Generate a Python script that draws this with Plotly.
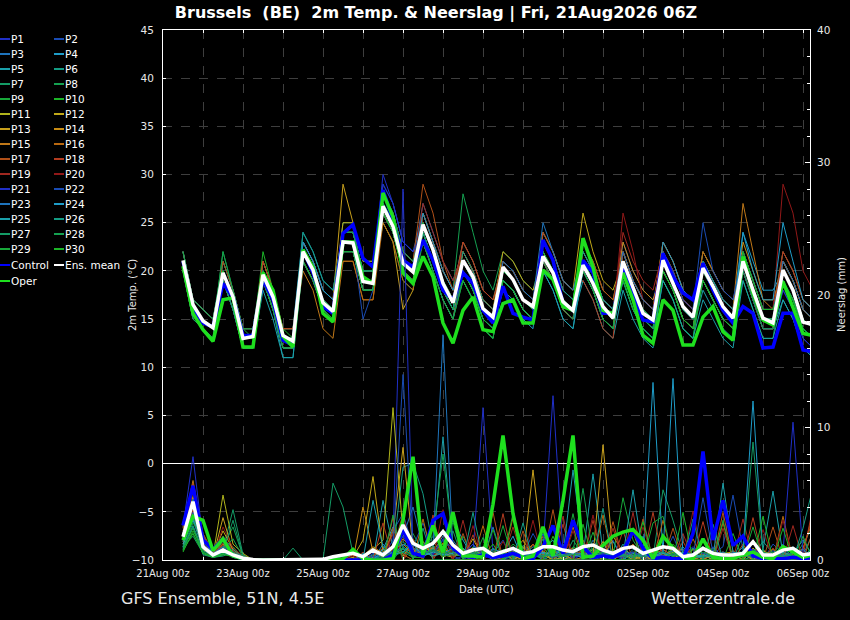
import pandas as pd
import plotly.graph_objects as go

# 6-hourly forecast steps, 21Aug 12z .. 06Sep 06z
times = pd.date_range("2026-08-21 12:00", periods=64, freq="6h")

# ensemble mean / control / oper, temperature (C)
MEAN_T = [21.1,16.5,14.8,14.1, 19.8,17.3,13.0,13.2, 19.6,17.3,13.3,12.7, 22.0,20.1,16.7,15.8,
          23.0,22.9,18.9,18.7, 26.7,24.6,20.8,19.9, 24.8,22.2,18.7,16.7, 21.1,19.4,16.1,15.2,
          20.4,19.1,17.0,16.3, 21.5,19.8,16.8,15.9, 20.6,18.7,16.3,15.1, 21.0,18.4,15.6,14.9,
          21.1,18.7,16.3,15.2, 20.3,18.4,16.3,15.1, 21.0,18.0,15.1,14.6, 20.1,18.0,14.7,14.4]
CTRL_T = [21.0,16.2,14.6,14.2, 18.7,17.3,13.3,13.3, 19.1,17.0,12.8,12.3, 22.2,19.8,16.3,15.6,
          23.9,24.8,21.3,20.4, 28.4,25.3,21.1,20.4, 23.2,21.1,18.0,17.0, 19.8,18.7,15.9,14.6,
          18.4,15.6,15.2,14.9, 23.2,21.1,16.6,15.9, 21.1,19.8,15.6,15.6, 20.3,17.7,14.9,14.7,
          21.8,19.4,17.7,17.0, 20.8,18.0,15.9,14.6, 16.3,15.6,12.0,12.1, 15.6,15.6,11.8,11.6]
OPER_T = [20.5,15.6,13.9,12.7, 17.0,17.2,12.1,12.1, 19.8,18.0,13.2,12.1, 22.2,20.4,15.6,14.7,
          23.0,23.0,19.4,18.7, 28.1,25.6,19.8,18.7, 21.5,19.4,14.6,12.5, 15.9,17.3,13.9,13.7,
          16.6,17.0,14.6,14.6, 20.1,19.1,16.3,15.9, 23.4,20.4,15.9,15.6, 19.8,17.0,13.3,12.5,
          17.0,15.9,12.3,12.3, 15.2,16.3,13.7,12.8, 21.5,17.7,14.9,14.4, 18.9,16.3,13.5,13.3]

# ensemble mean / control / oper, precipitation (mm / 6h)
MEAN_R = [1.76,4.4,1.0,0.38, 0.75,0.38,0.13,0.03, 0,0,0,0, 0,0,0.05,0.25,
          0.38,0.5,0.25,0.75, 0.38,1.0,2.64,1.26, 0.88,1.26,2.14,1.13, 0.5,0.75,0.88,0.38,
          0.63,0.88,0.5,0.63, 1.0,1.0,0.75,0.63, 1.0,1.13,0.75,0.5, 0.88,1.0,0.5,0.75,
          1.0,0.88,0.25,0.38, 0.88,0.5,0.38,0.38, 0.5,1.38,0.38,0.38, 0.75,0.88,0.38,0.5]
CTRL_R = [2.6,5.6,1.5,0.8, 1.6,0.3,0.1,0, 0,0,0,0, 0,0,0,0,
          0,0,0,0, 0,0.4,2.3,0.5, 0.3,3.0,3.5,0.9, 0.3,0.2,0.4,0.2,
          0.3,0.5,0.2,0.1, 1.0,2.6,0.5,3.0, 1.0,0.2,0.3,0.2, 0.6,2.2,0.9,0.1,
          0.2,0.1,0.1,2.0, 8.2,1.5,4.5,1.1, 1.8,0.3,0.1,0.1, 0.1,0.2,0.1,0.2]
OPER_R = [1.5,3.3,3.0,0.7, 1.6,0.3,0.1,0, 0,0,0,0, 0,0,0,0,
          0.1,0.8,0.1,0, 0,0.1,3.0,7.8, 0.4,2.6,0.6,3.6, 0.3,0.3,0.2,4.2,
          9.4,3.5,0.1,0.3, 2.5,0.3,4.5,9.4, 0.2,0.3,1.1,1.8, 2.1,2.3,1.5,0.1,
          1.8,0.9,0.2,0.1, 1.6,0.2,0.1,0.1, 0.4,0.6,0.2,0.1, 1.0,0.6,0.2,0.4]

# perturbed members, temperature (C)
P1_T = [21,16,15,14, 20,17,13,13, 20,17,13,13, 22,20,17,16, 24,24,20,20, 30,27,23,22, 24,21,18,16, 20,18,15,14, 20,19,17,16, 23,21,18,17, 21,19,16,15, 20,17,15,14, 22,20,17,16, 20,18,16,15, 20,17,14,14, 18,16,13,12]
P2_T = [22,17,16,15, 20,17,13,13, 19,16,12,12, 23,21,18,17, 23,23,19,19, 29,27,23,22, 26,23,20,18, 21,19,16,15, 19,18,16,15, 22,20,17,16, 22,20,17,16, 23,20,18,17, 21,19,16,15, 19,17,15,14, 22,19,16,16, 21,19,16,15]
P3_T = [21,16,15,14, 21,18,14,14, 20,17,13,13, 21,19,16,15, 22,22,18,18, 28,26,22,21, 27,24,21,19, 22,20,17,16, 20,19,17,16, 21,19,16,15, 20,18,15,14, 21,18,16,15, 22,20,17,16, 22,20,18,17, 21,18,15,15, 19,17,14,13]
P4_T = [21,16,15,14, 20,17,13,13, 21,18,14,14, 24,22,19,18, 24,24,20,20, 28,26,22,21, 25,22,19,17, 20,18,15,14, 18,17,15,14, 24,22,19,18, 21,19,16,15, 20,17,15,14, 21,19,16,15, 21,19,17,16, 24,21,18,18, 20,18,15,14]
P5_T = [21,16,15,14, 19,16,12,12, 19,16,11,11, 22,20,17,16, 22,22,18,18, 26,24,20,19, 26,23,20,18, 23,21,18,17, 21,20,18,17, 21,19,16,15, 19,17,14,13, 18,15,13,12, 20,18,15,14, 18,16,14,13, 20,17,14,14, 17,15,12,11]
P6_T = [22,17,16,15, 21,18,14,14, 20,17,13,13, 22,20,17,16, 25,25,21,21, 27,25,21,20, 24,21,18,16, 21,19,16,15, 21,20,18,17, 22,20,17,16, 22,20,17,16, 19,16,14,13, 19,17,14,13, 20,18,16,15, 22,19,16,16, 22,20,17,16]
P7_T = [21,16,15,14, 21,18,14,14, 21,18,14,14, 21,19,16,15, 23,23,19,19, 25,23,19,18, 23,20,17,15, 20,18,15,14, 20,19,17,16, 23,21,18,17, 23,21,18,17, 22,19,17,16, 20,18,15,14, 21,19,17,16, 21,18,15,15, 21,19,16,15]
P8_T = [20,15,14,13, 20,17,13,13, 20,17,13,13, 23,21,18,17, 24,24,20,20, 27,25,21,20, 26,23,20,18, 28,24,20,18, 22,21,19,18, 22,20,17,16, 20,18,15,14, 21,18,16,15, 22,20,17,16, 19,17,15,14, 19,16,13,13, 20,18,15,14]
P9_T = [21,16,15,14, 22,18,14,13, 19,16,12,12, 22,20,17,16, 23,23,19,19, 28,26,22,21, 24,21,18,16, 19,17,14,13, 19,18,16,15, 22,20,17,16, 21,19,16,15, 22,19,17,16, 23,21,18,17, 20,18,16,15, 20,17,14,14, 19,17,14,13]
P10_T = [21,16,15,14, 20,17,13,13, 22,18,14,13, 22,20,17,16, 22,22,18,18, 27,25,21,20, 25,22,19,17, 19,17,14,13, 19,18,16,15, 21,19,16,15, 22,20,17,16, 21,18,16,15, 19,17,14,13, 19,17,15,14, 21,18,15,15, 21,19,16,15]
P11_T = [22,17,16,15, 20,17,13,13, 20,17,13,13, 22,20,17,16, 24,24,20,20, 26,24,20,19, 23,20,17,15, 21,19,16,15, 21,20,18,17, 23,21,18,17, 20,18,15,14, 21,18,16,15, 20,18,15,14, 21,19,17,16, 21,18,15,15, 20,18,15,14]
P12_T = [21,16,15,14, 19,16,12,12, 20,17,13,13, 23,21,18,17, 25,25,21,21, 26,24,20,19, 24,21,18,16, 22,20,17,16, 20,19,17,16, 24,22,19,18, 26,22,19,18, 21,18,16,15, 22,20,17,16, 19,17,15,14, 22,19,16,16, 21,19,16,15]
P13_T = [21,16,15,14, 20,17,13,13, 20,17,13,13, 23,21,18,17, 29,25,19,19, 25,23,16,18, 25,22,19,17, 22,20,17,16, 22,21,19,18, 21,19,16,15, 21,19,16,15, 22,19,17,16, 21,19,16,15, 22,20,18,17, 20,17,14,14, 21,19,16,15]
P14_T = [20,15,14,13, 20,17,13,13, 21,18,14,14, 22,20,17,16, 22,22,18,18, 26,24,20,19, 26,23,20,18, 21,19,16,15, 19,18,16,15, 23,21,18,17, 22,20,17,16, 23,20,18,17, 20,18,15,14, 20,18,16,15, 23,20,17,17, 20,18,15,14]
P15_T = [21,16,15,14, 20,17,13,13, 20,17,13,13, 20,18,14,13, 21,21,17,17, 26,24,20,19, 25,22,19,17, 22,20,17,16, 19,18,16,15, 22,20,17,16, 20,18,15,14, 22,19,17,16, 23,21,18,17, 21,19,17,16, 27,22,17,16, 21,19,16,15]
P16_T = [22,17,16,15, 20,17,13,13, 19,16,12,12, 21,19,16,15, 21,21,17,17, 25,23,19,18, 26,23,20,18, 21,19,16,15, 21,20,18,17, 21,19,16,15, 23,21,18,17, 21,18,16,15, 22,20,17,16, 22,20,18,17, 20,17,14,14, 20,18,15,14]
P17_T = [21,16,15,14, 21,18,14,14, 20,17,13,13, 22,20,17,16, 22,22,18,18, 28,26,22,21, 29,26,21,18, 23,21,18,17, 21,20,18,17, 22,20,17,16, 23,21,18,17, 22,19,17,16, 20,18,15,14, 20,18,16,15, 22,19,16,16, 22,20,17,16]
P18_T = [21,16,15,14, 20,17,13,13, 21,18,14,14, 21,19,16,15, 24,24,20,20, 26,24,20,19, 25,22,19,17, 23,21,18,17, 20,19,17,16, 24,22,19,18, 19,17,14,13, 22,19,17,16, 23,21,18,17, 19,17,15,14, 21,18,15,15, 22,20,17,16]
P19_T = [21,16,15,14, 19,16,12,12, 20,17,13,13, 22,20,17,16, 23,23,19,19, 27,25,21,20, 27,24,21,19, 22,20,17,16, 20,19,17,16, 21,19,16,15, 22,20,17,16, 24,21,19,18, 22,20,17,16, 20,18,16,15, 20,17,14,14, 21,19,16,15]
P20_T = [21,16,15,14, 20,17,13,13, 19,16,12,12, 22,20,17,16, 23,23,19,19, 26,24,20,19, 26,23,20,18, 21,19,16,15, 21,20,18,17, 23,21,18,17, 21,19,16,15, 26,22,17,16, 22,20,17,16, 20,18,16,15, 22,19,16,16, 29,26,20,18]
P21_T = [20,15,14,13, 20,17,13,13, 20,17,13,13, 23,21,18,17, 23,23,19,19, 29,27,23,22, 24,21,18,16, 20,18,15,14, 19,18,16,15, 23,21,18,17, 21,19,16,15, 20,17,15,14, 21,19,16,15, 21,19,17,16, 20,17,14,14, 18,16,13,12]
P22_T = [21,16,15,14, 19,16,12,12, 20,17,13,13, 21,19,16,15, 23,23,15,18, 26,24,20,19, 23,20,17,15, 20,18,15,14, 20,19,17,16, 22,20,17,16, 20,18,15,14, 19,16,14,13, 22,20,17,16, 25,20,18,17, 22,19,16,16, 20,18,15,14]
P23_T = [22,17,16,15, 20,17,13,13, 20,17,13,13, 22,20,17,16, 24,24,20,20, 27,25,21,20, 25,22,19,17, 20,18,15,14, 21,20,18,17, 25,22,19,18, 22,20,17,16, 22,19,17,16, 20,18,15,14, 19,17,15,14, 21,18,15,15, 21,19,16,15]
P24_T = [21,16,15,14, 20,17,13,13, 19,16,12,12, 23,21,18,17, 22,22,18,18, 27,25,21,20, 26,23,20,18, 21,19,16,15, 19,18,16,15, 20,18,15,14, 21,19,16,15, 20,17,15,14, 23,21,18,17, 20,18,16,15, 24,20,17,17, 25,21,17,16]
P25_T = [21,16,15,14, 19,16,12,12, 18,15,11,11, 22,20,17,16, 23,23,19,19, 26,24,20,19, 24,21,18,16, 21,19,16,15, 19,18,16,15, 20,18,15,14, 20,18,15,14, 19,16,14,13, 19,17,14,13, 17,15,13,12, 19,16,13,13, 17,15,12,11]
P26_T = [21,16,15,14, 20,17,13,13, 20,17,13,13, 24,22,19,18, 24,24,20,20, 27,25,21,20, 24,21,18,16, 22,20,17,16, 20,19,17,16, 23,21,18,17, 22,20,17,16, 21,18,16,15, 21,19,16,15, 21,19,17,16, 21,18,15,15, 19,17,14,13]
P27_T = [20,15,14,13, 19,16,12,12, 19,16,12,12, 21,19,16,15, 22,22,18,18, 27,25,21,20, 23,20,17,15, 19,17,14,13, 19,18,16,15, 21,19,16,15, 21,19,16,15, 20,17,15,14, 20,18,15,14, 20,18,16,15, 22,19,16,16, 19,17,14,13]
P28_T = [21,16,15,14, 22,18,14,14, 20,17,13,13, 22,20,17,16, 24,24,20,20, 28,26,22,21, 24,21,18,16, 20,18,15,14, 20,19,17,16, 22,20,17,16, 20,18,15,14, 21,18,16,15, 21,19,16,15, 19,17,15,14, 20,17,14,14, 20,18,15,14]
P29_T = [22,17,16,15, 20,17,13,13, 19,16,12,12, 22,20,17,16, 22,22,18,18, 26,24,20,19, 23,20,17,15, 19,17,14,13, 20,19,17,16, 22,20,17,16, 20,18,15,14, 20,17,15,14, 20,18,15,14, 20,18,16,15, 21,18,15,15, 20,18,15,14]
P30_T = [21,16,15,14, 20,17,13,13, 20,17,13,13, 21,19,16,15, 23,23,19,19, 26,24,20,19, 25,22,19,17, 20,18,15,14, 19,18,16,15, 22,20,17,16, 21,19,16,15, 19,16,14,13, 20,18,15,14, 19,17,15,14, 22,19,16,16, 19,17,14,13]

# perturbed members, precipitation (mm / 6h)
P1_R = [2.5,7.8,1.5,0.3, 1.0,0.5,0,0, 0,0,0,0, 0,0,0,0, 0,0,0,0.5, 0.3,1.5,28,0.8, 0.5,1.2,2.0,0.3, 0,0.5,11.5,0.6, 0,0.3,1.0,0.5, 0,0.8,0.3,0, 0.5,0,1.2,0.4, 0,0.6,0,0.3, 0.8,0,0,0.5, 0,1.0,0.2,0, 0.4,0,0.6,0, 0,0.3,0,0.6]
P2_R = [2.0,5.5,1.0,0.5, 0.8,0.3,0,0, 0,0,0,0, 0,0,0,0, 0.3,0,0.4,0, 0,2.2,3.5,1.0, 2.8,0.4,1.5,0, 0.3,0,0.8,0.5, 1.5,0,0.4,2.0, 0.6,0,1.2,0, 0,0.8,0,1.5, 0,0,0.9,0.3, 0.2,1.8,0,0.5, 0,0.5,1.0,4.9, 0.8,0,0,1.2, 0.5,0,0.8,0]
P3_R = [1.5,4.5,2.0,0.2, 1.5,1.0,0.2,0, 0,0,0,0, 0,0,0,0, 0,0.5,0,0, 1.2,0.5,1.8,4.0, 1.0,2.5,0.8,1.5, 0.4,1.2,0,2.5, 0,1.0,0.5,0, 2.0,0,0.3,0.8, 0,1.5,0.4,0, 0.6,0,1.8,0, 0,0.7,0.5,0, 1.0,0,0.3,0.4, 0,0.8,0,0.3, 1.2,0,0.4,2.0]
P4_R = [1.0,3.5,1.5,0.5, 0.5,0.3,0,0, 0,0,0,0, 0,0,0,0.3, 0,0,0,0.2, 0.8,2.5,1.0,0.5, 0.3,0.6,1.8,3.0, 1.5,0.2,0.5,0, 0.5,1.8,0,0.6, 0,0.4,1.0,0.2, 0.6,0,0.8,1.4, 0,0.5,0.2,13.4, 0.5,0.3,1.0,0, 0.4,0,0.6,0.2, 1.0,0,0.3,0, 0,0.5,1.5,0.3]
P5_R = [1.8,3.0,0.8,0.3, 0.6,0.5,0,0, 0,0,0,0, 0,0,0,0, 0,0,0.5,0, 4.5,1.0,0.6,1.2, 0.5,0.8,9.3,1.0, 0.2,0.8,0.4,0.3, 0,0.5,0.3,1.0, 0.8,1.5,0,0.5, 0.3,6.5,0.6,0, 1.2,0,0.4,0.3, 0,0.9,0.5,0.2, 0.8,0.2,0,0.5, 0.6,0,0.8,5.2, 0.4,1.0,0,0.8]
P6_R = [0.8,2.5,0.4,0.2, 0.3,0.6,0.1,0, 0,0,0,0, 0,0,0,0, 0,0.2,0,0.4, 0,0.5,7.0,7.3, 5.0,1.0,0.3,0.8, 0.6,0.4,0.2,0.9, 0.4,0,1.1,0.6, 0.3,0.7,0.4,0, 1.3,0.2,0,0.7, 0,0.8,0.5,0.2, 0.6,0,0.3,0.9, 0.2,0.6,0.4,0, 0,0.3,1.4,0.5, 0.3,0.8,0.2,1.0]
P7_R = [1.2,2.0,0.6,0.2, 0.8,3.8,0.4,0, 0,0,0,0, 0,0,0,0, 0,0,0,0, 0,0.6,1.4,0.5, 0.9,0.3,0.7,2.2, 0,1.0,0.4,0.2, 0.6,0,0.9,0.3, 0.2,0.5,0,1.5, 0.4,0.9,0.3,0, 0.7,0.3,0.6,0.2, 5.3,3.0,0.4,0, 0.3,0.5,0,0.6, 0.2,0.8,0.3,0, 0.5,0,1.2,2.5]
P8_R = [2.2,4.0,1.2,0.6, 1.0,2.5,0.3,0, 0,0,0,0, 0,0,0,0, 0,0,0,0, 0.5,0,1.0,2.0, 0.6,1.8,8.0,1.2, 0.3,0.5,0.9,0, 0.8,0.4,0,0.6, 0.4,0,0.8,0.2, 0.5,1.2,0,0.4, 0.3,0,1.0,0.5, 0,0.6,0.2,0.8, 1.0,0.3,0.5,0, 0.4,0.2,0,0.6, 0.2,0.5,0.3,0]
P9_R = [1.0,2.8,1.6,0.4, 0.5,0.2,0,0, 0,0,0,0, 0,0,0,0, 0,0,0,0, 0.2,0.8,0.5,1.6, 0.4,0.6,1.2,0.3, 1.8,0.2,0.5,0.7, 0.3,1.2,0.6,0, 0,0.4,0.2,1.0, 0.6,0,0.5,0.3, 4.7,1.5,0.3,0, 0.4,0,0.6,0.2, 0.3,0.9,0,0.4, 0,0.3,0.8,0.2, 0.6,0.2,0,0.5]
P10_R = [0.6,2.2,0.8,0.2, 0.4,1.0,0.1,0, 0,0,0,0, 0,0,0,0, 0,0,0,0, 0.4,0.3,0.9,0.2, 0.2,1.1,0.5,0.8, 0.5,0,0.3,1.2, 0,0.7,0.2,0.5, 0.9,0.2,0.4,0, 0.2,0.5,0,0.8, 0.4,0.2,0.7,0.3, 0,1.2,0.3,0, 0.5,0,0.2,0.3, 0.3,0.6,0,0.4, 0,0.2,0.5,0.3]
P11_R = [1.4,3.6,1.0,0.3, 4.9,1.2,0.5,0, 0,0,0,0, 0,0,0,0, 0,0,0,0.8, 1.5,11.5,2.0,0.6, 0.3,1.0,0.4,0.2, 0.8,0.3,0.6,0, 0.2,0.5,1.0,0.3, 0.6,0,0.2,0.5, 0.3,0.8,0.4,0, 0.5,0,0.3,0.6, 0.2,0.4,0,0.8, 0,0.6,0.3,0.2, 0.5,0,0.7,0.3, 0.2,0.4,0,0.2]
P12_R = [1.6,4.2,1.2,0.4, 2.2,0.8,0.2,0, 0,0,0,0, 0,0,0,0, 0,0.2,1.5,6.3, 0.6,1.0,0.3,1.4, 0.8,0.2,0.9,0.4, 0.3,1.6,0.2,0.5, 0.7,0,0.4,1.2, 0.2,0.8,0,0.3, 0.5,0.2,1.4,0, 0.9,0.3,0,0.5, 0.3,0.6,0.8,0, 0.4,0,0.5,0.6, 0,0.9,0.2,0.3, 0.6,0,0.3,0.5]
P13_R = [1.2,3.4,0.8,0.2, 3.2,0.6,0.3,0, 0,0,0,0, 0,0,0,0, 0,0,0.3,1.0, 0.5,2.0,8.5,0.8, 0.4,0.9,0.2,0.6, 0.3,0,0.8,0.4, 0.6,0.3,0,6.8, 0.4,0,0.6,0.2, 0.8,0.3,8.7,0.5, 0.2,0.6,0.3,0, 0.5,0,0.4,0.3, 0.2,0.7,0,0.4, 0.3,0.2,0.6,0, 0.4,0,0.2,0.3]
P14_R = [1.8,4.8,1.4,0.5, 1.5,0.8,0.2,0, 0,0,0,0, 0,0,0,0, 0,0,4.0,0.6, 0.2,0.8,1.2,0.5, 1.4,0.3,0.6,0.2, 0.6,0.9,0.3,0.5, 0.2,0.6,1.5,0.3, 0.7,0.2,0.4,0.9, 0.3,0.5,0,1.8, 0.6,0.2,0.4,0, 0.3,0.8,0.2,0.5, 0,0.4,0.6,0.2, 0.5,0,0.3,0.8, 0.2,0.6,0,0.4]
P15_R = [2.4,6.0,1.8,0.4, 1.2,0.5,0.2,0, 0,0,0,0, 0,0,0,0, 0,0.4,0,0.3, 0.9,0.4,1.6,0.8, 0.3,1.4,0.5,0.9, 0.8,0.2,1.0,0.3, 0.4,0.9,0.2,0.6, 1.2,0.3,0.5,0, 0.2,0.6,0.9,0.3, 0.5,1.2,0.2,0.4, 0.8,0.3,0.6,0, 0.3,0.5,0,0.7, 0.2,0.4,0.5,0.2, 0.6,0.3,0.9,3.0]
P16_R = [2.0,5.2,1.6,0.3, 0.9,0.4,0.1,0, 0,0,0,0, 0,0,0,0, 0,0,0,0, 0,2.4,0.4,0, 3.1,0,1.3,0, 0,0,2.6,0, 0,3.2,0,0, 1.8,0,0,2.5, 0,0,3.4,0, 0,2.1,0,0, 3.0,0,0,1.6, 0,0,2.8,0, 0,1.5,0,0, 3.3,0,0,2.2]
P17_R = [2.6,5.8,2.0,0.6, 1.3,0.6,0.2,0, 0,0,0,0, 0,0,0,0, 0,0,0.2,0, 0,3.2,0,1.0, 0,2.7,0,0, 2.0,0,0,3.6, 0,0,2.2,0, 0,3.8,0,0, 1.5,0,0,2.9, 0,0,3.1,0, 0,2.4,0,0, 0,0,3.6,0, 1.2,0,0,2.5, 0,0,0.8,3.4]
P18_R = [2.2,4.4,1.8,0.5, 1.1,0.5,0.3,0, 0,0,0,0, 0,0,0,0, 0,0,0.6,0, 2.8,0,0,1.6, 0,3.4,0,0, 0,1.9,0,0, 3.5,0,0,1.2, 0,0,2.7,0, 0,3.0,0,0, 2.2,0,0,3.6, 0,0,1.4,0, 2.9,0,0,0, 0,3.2,0,0.9, 0,0,0.3,4.0]
P19_R = [1.6,3.8,1.4,0.3, 1.8,0.7,0.2,0, 0,0,0,0, 0,0,0,0, 0,0,0,0, 0,0.8,3.5,0, 0,0,2.2,0, 3.0,0,0,0.6, 0,2.5,0,0, 0,0,3.3,0, 1.0,0,0,2.4, 0,3.6,0,0, 0,0,2.0,0, 0,0,2.4,0, 3.1,0,0,0, 0,2.6,0,0]
P20_R = [1.4,3.2,1.0,0.2, 2.5,0.9,0.3,0, 0,0,0,0, 0,0,0,0, 0,0.3,0,0, 0,2.0,0,0, 0,0,3.8,0, 0,2.6,0,0, 1.4,0,0,3.0, 0,0,0,2.2, 0,3.4,0,0, 0,0,2.5,0, 0,0,0,3.7, 0,1.8,0,0, 0,0,2.3,0, 3.0,0,0,0]
P21_R = [1.8,4.2,1.2,0.4, 0.6,0.4,0,0, 0,0,0,0, 0,0,0,0, 0,0,0,0, 0.4,0.6,1.8,0.5, 0.9,0.4,1.6,0.8, 0.5,1.2,0.4,0.3, 0.2,0.8,0.3,0.5, 0.8,12.4,0.6,0.2, 0.4,0,0.8,0.3, 0.2,0.6,0.3,0.5, 0.3,0,0.4,1.0, 0.5,0.3,0.2,0.6, 0.3,0.8,0.4,0.2, 0.6,10.4,0.5,0.3]
P22_R = [1.5,3.6,1.0,0.3, 0.8,0.5,0.1,0, 0,0,0,0, 0,0,0,0, 0,0,0,0.3, 0.2,0.9,14.0,0.6, 0.4,0.8,0.3,1.0, 0.6,0.3,0.9,0.4, 0.3,0.5,0.2,0.8, 0.5,0.2,0.4,0.6, 0.8,0.3,0.5,0.2, 0.4,0.6,0.2,0.3, 0.2,0.4,0.8,0.3, 4.7,0.5,0.3,0.4, 0.6,0.2,0.5,0.3, 0.2,0.6,0.3,0.5]
P23_R = [2.0,4.6,1.4,0.5, 1.0,0.6,0.2,0, 0,0,0,0, 0,0,0,0, 0,0,0.4,0, 0.6,0.3,1.2,0.9, 0.5,0.8,17.0,0.6, 0.3,0.5,0.2,0.8, 0.6,0.2,0.7,0.4, 0.3,0.9,0.3,0.5, 0.5,0.2,0.6,0.3, 0.8,0.3,0.4,0.2, 0.3,0.7,0.2,0.5, 0.2,0.4,0.6,0.3, 0.5,0.3,0.2,0.7, 0.3,0.5,0.8,0.2]
P24_R = [1.2,3.0,1.6,0.4, 0.7,0.3,0,0, 0,0,0,0, 0,0,0,0, 0,0,0,0, 0.8,0.4,0.6,1.2, 0.3,0.6,0.4,0.5, 0.9,0.2,0.6,0.3, 0.4,0.6,0.3,0.2, 0.6,0.3,0.8,0.4, 0.2,0.5,0.3,0.6, 0.4,0.2,0.5,0.3, 0.6,13.7,0.4,0.2, 0.3,0.5,0.2,0.4, 0.6,12.0,0.4,0.3, 0.2,0.5,0.3,0.6]
P25_R = [1.4,3.2,0.9,0.2, 0.5,0.4,0,0, 0,0,0,0, 0,0,0,0, 0,0,0,4.5, 1.0,0.5,0.8,0.4, 0.6,0.3,0.5,0.9, 0.4,0.8,0.3,0.5, 0.2,0.4,0.6,0.3, 0.5,0.3,0.4,6.8, 0.8,0.4,0.2,0.5, 0.3,5.3,0.4,0.2, 0.5,0.3,0.6,0.4, 0.3,0.2,5.8,0.6, 0.4,0.5,0.3,0.2, 0.6,0.3,0.4,0.5]
P26_R = [0.9,2.6,0.7,0.3, 0.4,0.8,0.2,0, 0,0,0,0, 0,0,0,0, 0,0,0,0, 0,0,3.0,0, 2.4,0,0,0, 0,3.6,0,0, 0,0,2.8,0, 1.6,0,0,0, 0,0,3.9,0, 0,2.2,0,0, 0,0,0,3.1, 0,2.7,0,0, 1.9,0,0,0, 0,0,2.4,5.5]
P27_R = [1.0,1.8,0.5,0.2, 0.6,3.0,0.3,0, 0,0,0,0.9, 0,0,0,5.8, 4.0,0.5,0,0, 0.4,0.3,0.6,0.2, 0.5,0.7,0.3,0.4, 0.3,0.5,0.2,0.6, 0.6,0.2,0.4,0.3, 0.2,0.5,0.3,0.4, 0.4,0.2,0.6,0.3, 0.3,0.4,0.2,0.5, 0.6,0.3,0.4,0.2, 0.2,0.5,0.3,0.4, 0.3,8.9,0.5,0.2, 0.4,0.3,0.2,0.6]
P28_R = [1.6,3.4,1.0,0.4, 0.8,1.6,0.2,0, 0,0,0,0, 0,0,0,0, 0,0,0,0, 0.2,0.5,0.9,0.3, 0.4,0.8,0.5,0.6, 0.3,0.6,0.4,0.2, 0.5,0.3,0.6,0.4, 0.3,0.5,0.2,0.6, 5.4,0.3,0.4,0.2, 0.4,0.2,0.5,0.3, 0.2,0.5,0.3,0.4, 0.6,0.3,0.2,0.5, 0.3,0.2,0.6,0.4, 0.2,0.5,0.3,0.2]
P29_R = [0.8,2.4,0.6,0.2, 0.5,0.6,0.1,0, 0,0,0,0, 0,0,0,0, 0,0,0,0, 0,3.4,0,0, 0,0,0,2.9, 0,0,1.7,0, 2.6,0,0,0, 0,0,0,3.5, 0,2.1,0,0, 0,0,0,2.8, 3.3,0,0,0, 0,0,3.0,0, 0,2.5,0,0, 0,0,1.8,0]
P30_R = [0.7,2.0,0.5,0.2, 0.4,0.3,0.1,0, 0,0,0,0, 0,0,0,0, 0,0,0,0, 0,0,2.6,0, 0,3.1,0,0, 0,0,0,2.3, 0,3.5,0,0, 0,1.8,0,0, 2.7,0,0,0, 0,0,2.9,0, 0,0,3.6,0, 0,0,0,2.0, 0,0,3.3,0, 2.4,0,0,0]

members_t = [P1_T, P2_T, P3_T, P4_T, P5_T, P6_T, P7_T, P8_T, P9_T, P10_T,
             P11_T, P12_T, P13_T, P14_T, P15_T, P16_T, P17_T, P18_T, P19_T, P20_T,
             P21_T, P22_T, P23_T, P24_T, P25_T, P26_T, P27_T, P28_T, P29_T, P30_T]
members_r = [P1_R, P2_R, P3_R, P4_R, P5_R, P6_R, P7_R, P8_R, P9_R, P10_R,
             P11_R, P12_R, P13_R, P14_R, P15_R, P16_R, P17_R, P18_R, P19_R, P20_R,
             P21_R, P22_R, P23_R, P24_R, P25_R, P26_R, P27_R, P28_R, P29_R, P30_R]
names = ["P%d" % (k + 1) for k in range(30)]

# colour ramp for P1..P20, repeated for P21..P30
ramp = ["#2030c8", "#1a4cb4", "#1e74bc", "#1e9cc8", "#1aa0aa", "#149c84", "#149c66", "#14a050",
        "#18a83a", "#1cb428", "#b0b41c", "#c0a818", "#c8a01c", "#c88c14", "#c07818", "#b86810",
        "#b05018", "#b43c20", "#a02820", "#901818"]
colors = [ramp[k % 20] for k in range(30)]
CTRL_COL = "#0000ff"
OPER_COL = "#1ee01e"
MEAN_COL = "#ffffff"

W, H = 850, 620
ML, MR, MT, MB = 163, 40, 30, 60
FONT = "DejaVu Sans"
TXT = "#e8e8e8"
GRID = "#3e3e3e"


def fx(x):
    # window pixel -> paper x
    return (x - ML) / (W - ML - MR)


def fy(y):
    # window pixel -> paper y
    return (H - MB - y) / (H - MT - MB)


fig = go.Figure()

for k in range(30):
    fig.add_trace(go.Scatter(x=times, y=members_r[k], yaxis="y2", mode="lines",
                             line=dict(color=colors[k], width=1), name=names[k]))
for k in range(30):
    fig.add_trace(go.Scatter(x=times, y=members_t[k], mode="lines",
                             line=dict(color=colors[k], width=1), name=names[k]))

fig.add_trace(go.Scatter(x=times, y=CTRL_T, mode="lines", line=dict(color=CTRL_COL, width=3.5), name="Control"))
fig.add_trace(go.Scatter(x=times, y=CTRL_R, yaxis="y2", mode="lines", line=dict(color=CTRL_COL, width=3.5), name="Control"))
fig.add_trace(go.Scatter(x=times, y=OPER_T, mode="lines", line=dict(color=OPER_COL, width=3.5), name="Oper"))
fig.add_trace(go.Scatter(x=times, y=OPER_R, yaxis="y2", mode="lines", line=dict(color=OPER_COL, width=3.5), name="Oper"))
fig.add_trace(go.Scatter(x=times, y=MEAN_T, mode="lines", line=dict(color=MEAN_COL, width=3.5), name="Ens. mean"))
fig.add_trace(go.Scatter(x=times, y=MEAN_R, yaxis="y2", mode="lines", line=dict(color=MEAN_COL, width=3.5), name="Ens. mean"))

# two-column legend at the left, drawn as text + short line swatches
left_col = [names[k] for k in range(0, 30, 2)] + ["Control", "Oper"]
left_cols = [colors[k] for k in range(0, 30, 2)] + [CTRL_COL, OPER_COL]
right_col = [names[k] for k in range(1, 30, 2)] + ["Ens. mean"]
right_cols = [colors[k] for k in range(1, 30, 2)] + [MEAN_COL]
rows = [39 + 15 * j for j in range(15)] + [265, 281]

shapes = []
annotations = []
for col, cols, x0 in [(left_col, left_cols, 0), (right_col, right_cols, 54)]:
    for j, (label, c) in enumerate(zip(col, cols)):
        yy = rows[j]
        shapes.append(dict(type="line", xref="paper", yref="paper", x0=fx(x0), x1=fx(x0 + 10),
                           y0=fy(yy), y1=fy(yy), line=dict(color=c, width=2)))
        annotations.append(dict(text=label, xref="paper", yref="paper", x=fx(x0 + 9), y=fy(yy),
                                xanchor="left", yanchor="middle", showarrow=False,
                                font=dict(family=FONT, size=10.5, color="white")))

# axis titles and footer texts
annotations.append(dict(text="2m Temp. (°C)", xref="paper", yref="paper", x=fx(132), y=fy(295),
                        textangle=-90, xanchor="center", yanchor="middle", showarrow=False,
                        font=dict(family=FONT, size=10, color=TXT)))
annotations.append(dict(text="Neerslag (mm)", xref="paper", yref="paper", x=fx(841), y=fy(295),
                        textangle=-90, xanchor="center", yanchor="middle", showarrow=False,
                        font=dict(family=FONT, size=10, color=TXT)))
annotations.append(dict(text="Date (UTC)", xref="paper", yref="paper", x=fx(486), y=fy(589),
                        xanchor="center", yanchor="middle", showarrow=False,
                        font=dict(family=FONT, size=10, color=TXT)))
annotations.append(dict(text="GFS Ensemble, 51N, 4.5E", xref="paper", yref="paper",
                        x=fx(119), y=fy(598), xanchor="left", yanchor="middle", showarrow=False,
                        font=dict(family=FONT, size=16, color=TXT)))
annotations.append(dict(text="Wetterzentrale.de", xref="paper", yref="paper",
                        x=fx(649), y=fy(598), xanchor="left", yanchor="middle", showarrow=False,
                        font=dict(family=FONT, size=16, color=TXT)))

fig.update_layout(
    width=W, height=H,
    margin=dict(l=ML, r=MR, t=MT, b=MB),
    paper_bgcolor="black", plot_bgcolor="black",
    showlegend=False, hovermode=False,
    font=dict(family=FONT, color=TXT, size=10),
    title=dict(text="<b>Brussels\u00a0\u00a0(BE)\u00a0\u00a02m Temp. & Neerslag | Fri, 21Aug2026 06Z</b>",
               x=436 / W, xanchor="center", y=1 - 12 / H, yanchor="middle",
               font=dict(family=FONT, size=16, color="white")),
    xaxis=dict(type="date", range=["2026-08-21 00:00", "2026-09-06 04:12"],
               tick0="2026-08-21 00:00", dtick=2 * 86400000, tickformat="%d%b %Hz",
               showgrid=True, gridcolor=GRID, griddash="dash", gridwidth=1,
               minor=dict(dtick=86400000, showgrid=True, gridcolor=GRID, griddash="dash",
                          ticks="inside", ticklen=3, tickcolor="white"),
               ticks="inside", ticklen=3, tickcolor="white", ticklabelstandoff=4,
               showline=True, linecolor="white", linewidth=1, mirror="allticks", zeroline=False,
               tickfont=dict(size=10, color=TXT)),
    yaxis=dict(range=[-10, 45], tick0=0, dtick=5,
               showgrid=True, gridcolor=GRID, griddash="dash",
               zeroline=True, zerolinecolor="white", zerolinewidth=1.3,
               showline=True, linecolor="white", linewidth=1,
               ticks="inside", ticklen=3, tickcolor="white", ticklabelstandoff=6,
               tickfont=dict(size=10.5, color=TXT)),
    yaxis2=dict(range=[0, 40], overlaying="y", side="right", tick0=0, dtick=10,
                showgrid=False, zeroline=False,
                showline=True, linecolor="white", linewidth=1,
                ticks="inside", ticklen=5, tickcolor="white", ticklabelstandoff=4,
                minor=dict(dtick=2, ticks="inside", ticklen=3, tickcolor="white"),
                tickfont=dict(size=10.5, color=TXT)),
    shapes=shapes,
    annotations=annotations,
)

# the page body has a default 8px margin; drop it so the figure sits at the window corner
fig.write_html("out.html", config={"displayModeBar": False},
               post_script="document.body.style.margin='0';")
